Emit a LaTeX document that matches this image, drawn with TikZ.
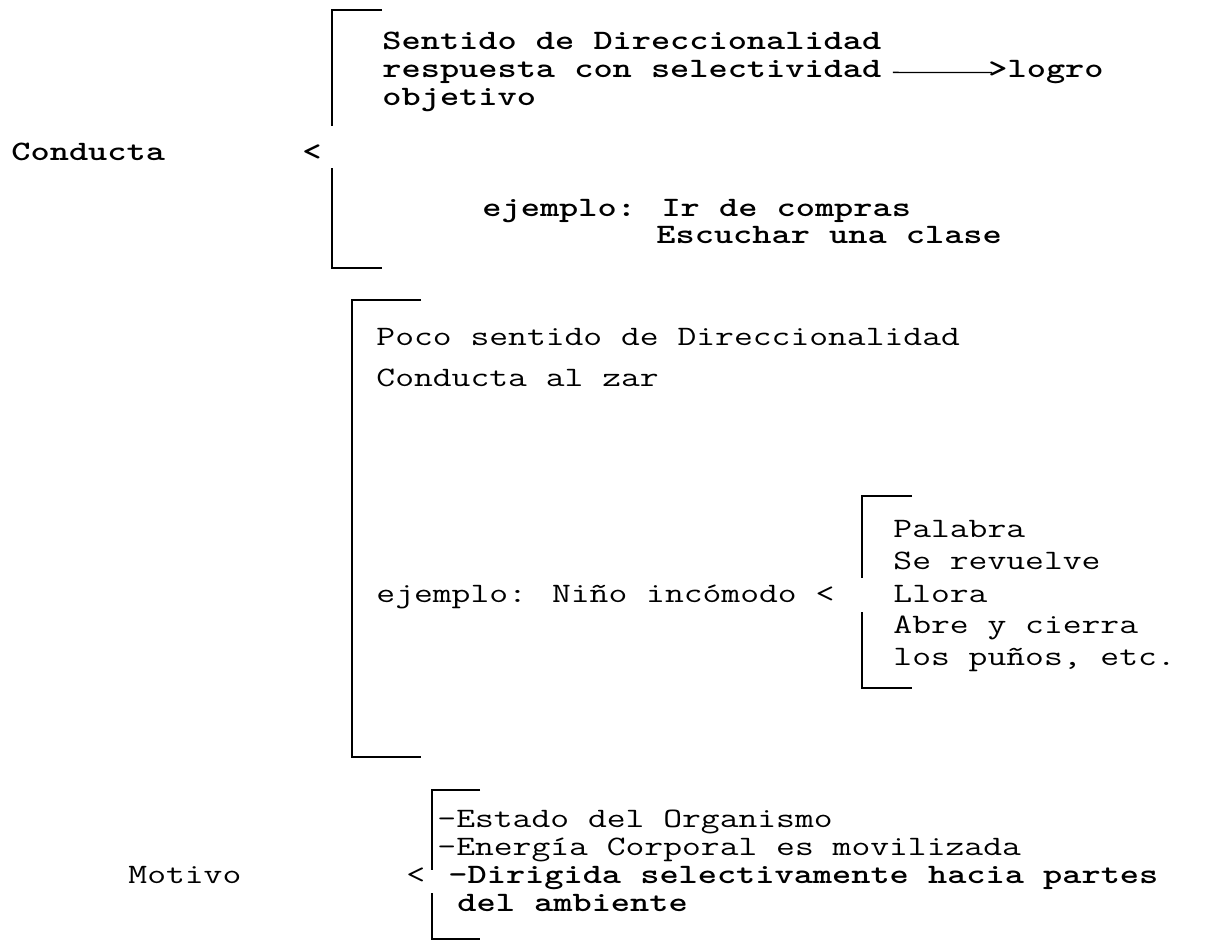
\documentclass[tikz,border=0pt]{standalone}
\usepackage{fontspec}
\begin{document}
\begin{tikzpicture}[
      x=0.02cm,
      y=-0.02cm,
      typed/.style={anchor=base west,
                    inner sep=0pt,
                    xscale=1.3,
                    font=\ttfamily\fontsize{16}{19}\selectfont},
      heavy/.style={typed,
                    font=\ttfamily\bfseries\fontsize{16}{19}\selectfont},
      bracketline/.style={line width=1pt},
      arrowline/.style={line width=0.8pt}
    ]

    \fill[white] (0,0) rectangle (1214,946);
    \useasboundingbox (0,0) rectangle (1214,946);

    % Conducta
    \draw (11,160)
          node[heavy]
          (conducta)
          {Conducta};
    \draw (302,160)
          node[heavy]
          (ltone)
          {<};
    \draw (382,50)
          node[heavy]
          (sentido)
          {Sentido de Direccionalidad};
    \draw (382,78)
          node[heavy]
          (respuesta)
          {respuesta con selectividad};
    \draw (988,78)
          node[heavy]
          (logro)
          {>logro};
    \draw (382,106)
          node[heavy]
          (objetivo)
          {objetivo};
    \draw (482,216)
          node[heavy]
          (ejemploone)
          {ejemplo: Ir de compras};
    \draw (656,243)
          node[heavy]
          (escuchar)
          {Escuchar una clase};

    \draw [arrowline] ([xshift=0.22cm]respuesta.east) to
                      ([xshift=0.08cm]logro.west);

    \draw [bracketline] (382,10) -- (332,10) -- (332,126);
    \draw [bracketline] (332,168) -- (332,268) -- (382,268);

    % Poco sentido
    \draw (376,345)
          node[typed]
          (poco)
          {Poco sentido de Direccionalidad};
    \draw (376,386)
          node[typed]
          (azar)
          {Conducta al zar};
    \draw (376,602)
          node[typed]
          (nino)
          {ejemplo: Niño incómodo <};

    \draw [bracketline] (421,300) -- (352,300) -- (352,757) -- (421,757);

    \draw (893,537)
          node[typed]
          (palabra)
          {Palabra};
    \draw (893,569)
          node[typed]
          (revuelve)
          {Se revuelve};
    \draw (893,602)
          node[typed]
          (llora)
          {Llora};
    \draw (893,633)
          node[typed]
          (abre)
          {Abre y cierra};
    \draw (893,665)
          node[typed]
          (punos)
          {los puños, etc.};

    \draw [bracketline] (912,496) -- (862,496) -- (862,578);
    \draw [bracketline] (862,612) -- (862,688) -- (912,688);

    % Motivo
    \draw (128,883)
          node[typed]
          (motivo)
          {Motivo};
    \draw (406,883)
          node[typed]
          (ltthree)
          {<};
    \draw (437,827)
          node[typed]
          (estado)
          {-Estado del Organismo};
    \draw (437,855)
          node[typed]
          (energia)
          {-Energía Corporal es movilizada};
    \draw (448,883)
          node[heavy]
          (dirigida)
          {-Dirigida selectivamente hacia partes};
    \draw (457,911)
          node[heavy]
          (ambiente)
          {del ambiente};

    \draw [bracketline] (480,790) -- (432,790) -- (432,870);
    \draw [bracketline] (432,893) -- (432,939) -- (480,939);

\end{tikzpicture}
\end{document}
